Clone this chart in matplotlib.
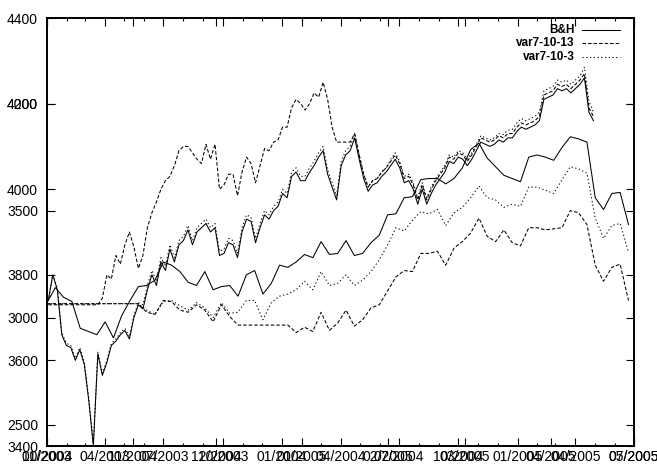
import matplotlib
matplotlib.use("Agg")
import matplotlib.pyplot as plt
import matplotlib.dates as mdates
import pandas as pd

plt.rcParams['font.family'] = ['Liberation Sans', 'DejaVu Sans']

# ---- first run: weekly values, 01/2003 .. 05/2005 (left scale 3400-4400)
bh_a = [3740, 3800, 3765, 3660, 3635, 3630, 3600, 3625, 3590, 3505,
        3400, 3615, 3565, 3595, 3635, 3645, 3660, 3670, 3650, 3700,
        3730, 3720, 3765, 3800, 3775, 3830, 3810, 3860, 3830, 3870,
        3880, 3905, 3870, 3900, 3910, 3920, 3900, 3910, 3845, 3850,
        3875, 3870, 3840, 3900, 3930, 3925, 3875, 3910, 3940, 3930,
        3950, 3960, 3990, 3980, 4030, 4040, 4020, 4020, 4040, 4055,
        4075, 4090, 4035, 4005, 3975, 4055, 4080, 4090, 4120, 4070,
        4025, 3995, 4010, 4015, 4030, 4040, 4055, 4070, 4050, 4015,
        4020, 4000, 3965, 4000, 3965, 3990, 4010, 4025, 4040, 4065,
        4060, 4075, 4070, 4055, 4070, 4090, 4110, 4105, 4100, 4105,
        4115, 4110, 4120, 4120, 4135, 4145, 4140, 4145, 4150, 4160,
        4210, 4215, 4220, 4235, 4230, 4235, 4225, 4235, 4245, 4260,
        4180, 4160]

v13_a = [3730, 3730, 3730, 3730, 3730, 3730, 3730, 3730, 3730, 3730,
         3730, 3730, 3745, 3800, 3790, 3845, 3825, 3870, 3900, 3865,
         3815, 3845, 3910, 3945, 3970, 4000, 4020, 4030, 4055, 4090,
         4100, 4100, 4085, 4070, 4060, 4105, 4070, 4105, 4000, 4010,
         4035, 4035, 3985, 4040, 4075, 4060, 4015, 4055, 4095, 4090,
         4110, 4115, 4145, 4145, 4190, 4210, 4200, 4185, 4200, 4225,
         4215, 4250, 4210, 4145, 4110, 4110, 4110, 4110, 4130, 4080,
         4035, 4005, 4020, 4025, 4040, 4050, 4065, 4080, 4060, 4025,
         4030, 4010, 3975, 4010, 3975, 4000, 4020, 4035, 4050, 4075,
         4070, 4085, 4080, 4065, 4080, 4100, 4120, 4115, 4110, 4115,
         4125, 4120, 4130, 4130, 4145, 4155, 4150, 4155, 4160, 4170,
         4220, 4225, 4230, 4245, 4240, 4245, 4235, 4245, 4255, 4270,
         4190, 4170]

v3_a = [3740, 3800, 3770, 3665, 3640, 3635, 3605, 3630, 3595, 3510,
        3405, 3620, 3570, 3600, 3640, 3650, 3665, 3675, 3655, 3705,
        3735, 3730, 3775, 3810, 3785, 3840, 3820, 3870, 3840, 3880,
        3890, 3915, 3880, 3910, 3920, 3930, 3910, 3920, 3855, 3860,
        3885, 3880, 3850, 3910, 3940, 3935, 3885, 3920, 3950, 3940,
        3960, 3970, 4000, 3990, 4040, 4050, 4030, 4030, 4050, 4065,
        4085, 4100, 4045, 4015, 3985, 4065, 4090, 4100, 4130, 4080,
        4035, 4005, 4020, 4025, 4040, 4050, 4070, 4085, 4065, 4030,
        4035, 4015, 3980, 4015, 3980, 4005, 4025, 4040, 4055, 4080,
        4075, 4090, 4085, 4070, 4085, 4105, 4125, 4120, 4115, 4120,
        4130, 4128, 4138, 4140, 4155, 4165, 4160, 4165, 4170, 4180,
        4230, 4235, 4240, 4255, 4250, 4255, 4245, 4255, 4265, 4285,
        4205, 4180]

# ---- second run: values every 3 days, 10/2004 .. 04/2005 (scale 2400-4400)
bh_b = [3070, 3140, 3095, 3075, 2950, 2935, 2920, 2980, 2905, 3010,
        3080, 3145, 3150, 3175, 3260, 3245, 3215, 3165, 3150, 3215,
        3130, 3145, 3150, 3100, 3200, 3220, 3110, 3160, 3245, 3235,
        3260, 3295, 3280, 3355, 3295, 3300, 3360, 3290, 3300, 3350,
        3385, 3480, 3485, 3560, 3565, 3645, 3650, 3650, 3625, 3650,
        3700, 3785, 3815, 3745, 3705, 3665, 3650, 3635, 3750, 3760,
        3750, 3735, 3795, 3845, 3835, 3820, 3560, 3505, 3580, 3585,
        3435]

v13_b = [3065, 3065, 3065, 3065, 3065, 3065, 3065, 3065, 3065, 3065,
         3065, 3065, 3025, 3015, 3080, 3075, 3035, 3025, 3060, 3035,
         2980, 3060, 3005, 2965, 2965, 2965, 2965, 2965, 2965, 2965,
         2930, 2955, 2935, 3025, 2940, 2975, 3035, 2960, 2990, 3045,
         3060, 3125, 3190, 3220, 3215, 3300, 3300, 3310, 3245, 3325,
         3355, 3395, 3465, 3380, 3355, 3410, 3350, 3335, 3420, 3420,
         3410, 3415, 3420, 3500, 3490, 3435, 3245, 3170, 3235, 3250,
         3080]

v3_b = [3065, 3065, 3065, 3065, 3065, 3065, 3065, 3065, 3065, 3065,
        3065, 3065, 3035, 3015, 3075, 3080, 3055, 3035, 3070, 3045,
        3000, 3070, 3020, 3025, 3080, 3080, 2990, 3070, 3100, 3110,
        3130, 3170, 3130, 3215, 3150, 3160, 3200, 3150, 3175, 3215,
        3270, 3340, 3420, 3405, 3455, 3495, 3485, 3505, 3430, 3490,
        3515, 3560, 3615, 3560, 3550, 3515, 3530, 3520, 3610, 3610,
        3595, 3580, 3645, 3705, 3695, 3675, 3465, 3370, 3430, 3440,
        3305]

legend_labels = ['B&H', 'var7-10-13', 'var7-10-3']

dates_a = pd.date_range('2003-01-03', periods=len(bh_a), freq='7D')
dates_b = pd.date_range('2004-10-01', periods=len(bh_b), freq='3D')

dash = (3.4, 1.9)
dot = (1.2, 2.4)
lw = 0.75

fig = plt.figure(figsize=(6.57, 4.67), dpi=100)
rect = [47 / 657, 21 / 467, 587 / 657, 428 / 467]
ax1 = fig.add_axes(rect)
ax2 = fig.add_axes(rect, frameon=False)

ax1.plot(dates_a, bh_a, color='k', lw=lw)
ax1.plot(dates_a, v13_a, color='k', lw=lw, dashes=dash)
ax1.plot(dates_a, v3_a, color='k', lw=lw, dashes=dot)

ax2.plot(dates_b, bh_b, color='k', lw=lw)
ax2.plot(dates_b, v13_b, color='k', lw=lw, dashes=dash)
ax2.plot(dates_b, v3_b, color='k', lw=lw, dashes=dot)

ax1.set_xlim(pd.Timestamp('2003-01-01'), pd.Timestamp('2005-07-01'))
ax1.set_ylim(3400, 4400)
ax2.set_xlim(pd.Timestamp('2004-10-01'), pd.Timestamp('2005-05-01'))
ax2.set_ylim(2400, 4400)

ax1.xaxis.set_major_locator(mdates.MonthLocator(bymonth=[1, 4, 7, 10]))
ax1.xaxis.set_minor_locator(mdates.MonthLocator())
ax1.xaxis.set_major_formatter(mdates.DateFormatter('%m/%Y'))
ax1.set_yticks(range(3400, 4401, 200))

ax2.xaxis.set_major_locator(mdates.MonthLocator())
ax2.xaxis.set_major_formatter(mdates.DateFormatter('%m/%Y'))
ax2.set_yticks(range(2500, 4001, 500))

for ax in (ax1, ax2):
    ax.tick_params(which='both', direction='in', top=True, right=True,
                   labelsize=10, width=0.8)
    ax.tick_params(which='major', length=5.5)
    ax.tick_params(which='minor', length=2.5)
    ax.tick_params(axis='y', pad=6.5)
    ax.tick_params(axis='x', pad=3)

for sp in ax1.spines.values():
    sp.set_linewidth(1.4)

# key, top right
styles = [None, dash, dot]
for i, (lab, st) in enumerate(zip(legend_labels, styles)):
    y = 0.972 - i * 0.031
    ax1.text(0.899, y, lab, transform=ax1.transAxes, ha='right', va='center',
             fontsize=8.5, fontweight='bold')
    kw = {'dashes': st} if st else {}
    ax1.plot([0.911, 0.976], [y, y], transform=ax1.transAxes, color='k',
             lw=lw, **kw)

fig.savefig('out.png', dpi=100)
